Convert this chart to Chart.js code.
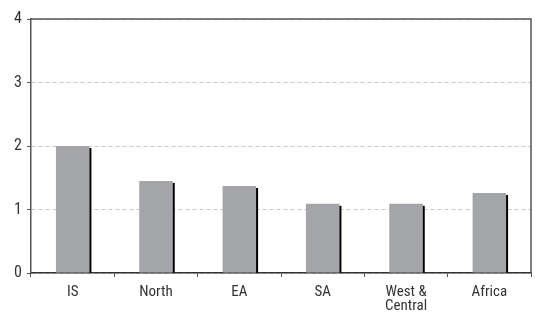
<!DOCTYPE html>
<html>
<head>
<meta charset="utf-8">
<script src="https://cdn.jsdelivr.net/npm/chart.js@4/dist/chart.umd.min.js"></script>
<style>
  html, body { margin: 0; padding: 0; background: #fff; }
  #wrap { width: 535px; height: 318px; }
</style>
</head>
<body>
<div id="wrap"><canvas id="chart"></canvas></div>
<script>
const regions = ['IS', 'North', 'EA', 'SA', ['West &', 'Central'], 'Africa'];
const values = [2.0, 1.45, 1.37, 1.09, 1.09, 1.26];
const yTicks = [0, 1, 2, 3, 4];

// thin dark shadow on the right side of each bar, plus the top/right frame
const shadowAndFrame = {
  id: 'shadowAndFrame',
  afterDatasetsDraw(chart) {
    const ctx = chart.ctx;
    const meta = chart.getDatasetMeta(0);
    ctx.save();
    ctx.fillStyle = '#000';
    meta.data.forEach(bar => {
      const right = bar.x + bar.width / 2;
      ctx.fillRect(right, bar.y + 2, 2, bar.base - bar.y - 2);
    });
    const a = chart.chartArea;
    ctx.strokeStyle = '#555';
    ctx.lineWidth = 1.5;
    ctx.beginPath();
    ctx.moveTo(a.left, a.top);
    ctx.lineTo(a.right, a.top);
    ctx.lineTo(a.right, a.bottom);
    ctx.stroke();
    ctx.restore();
  }
};

const labelFont = { family: 'Liberation Sans Narrow, Roboto Condensed, Liberation Sans', size: 15, lineHeight: 0.95 };

new Chart(document.getElementById('chart'), {
  type: 'bar',
  data: {
    labels: regions,
    datasets: [{
      data: values,
      backgroundColor: '#a4a5a8',
      borderWidth: 0,
      categoryPercentage: 0.82,
      barPercentage: 0.49
    }]
  },
  options: {
    responsive: true,
    maintainAspectRatio: false,
    animation: false,
    layout: { padding: { top: 19, right: 4, left: 0, bottom: 0 } },
    plugins: {
      legend: { display: false },
      tooltip: { enabled: false }
    },
    scales: {
      x: {
        afterFit(axis) { axis.height = 45; },
        grid: {
          display: true,
          drawOnChartArea: false,
          drawTicks: true,
          tickLength: 4,
          color: '#555'
        },
        border: { display: true, color: '#333', width: 1.5 },
        ticks: {
          color: '#333',
          padding: 8,
          maxRotation: 0,
          font: labelFont
        }
      },
      y: {
        min: 0,
        max: 4,
        afterBuildTicks(axis) {
          axis.ticks = yTicks.map(v => ({ value: v }));
        },
        afterFit(axis) { axis.width = 31; },
        grid: {
          color: '#c8c8c8',
          tickColor: '#555',
          tickLength: 4,
          tickBorderDash: [0],
          tickBorderDashOffset: 0
        },
        border: { display: true, color: '#555', width: 1.5, dash: [4, 3] },
        ticks: {
          color: '#333',
          padding: 5,
          font: { family: labelFont.family, size: 16 }
        }
      }
    }
  },
  plugins: [shadowAndFrame]
});
</script>
</body>
</html>
